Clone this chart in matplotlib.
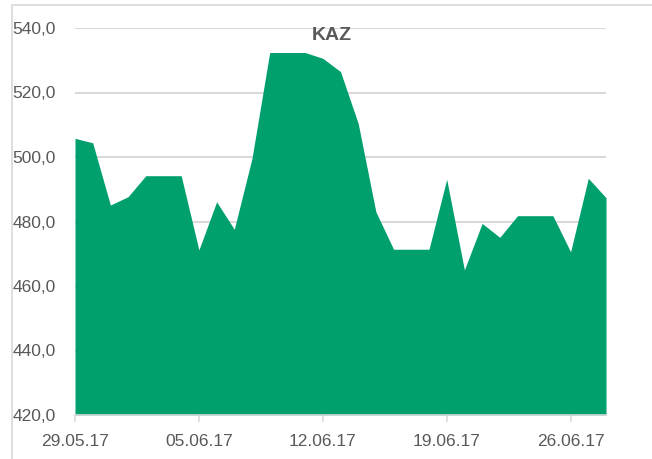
import pandas as pd
import matplotlib.pyplot as plt
import matplotlib.dates as mdates
from matplotlib.patches import Rectangle

plt.rcParams['font.family'] = ['Liberation Sans', 'DejaVu Sans']

dates = pd.date_range('2017-05-29', '2017-06-28', freq='D')
values = [505.8, 504.4, 485.1, 487.7, 494.2, 494.2, 494.2, 471.2, 486.1, 477.6,
          499.6, 532.4, 532.4, 532.4, 530.6, 526.5, 510.4, 483.0, 471.4, 471.4,
          471.4, 493.1, 465.0, 479.4, 475.1, 481.8, 481.8, 481.8, 470.6, 493.4,
          487.4]
tick_dates = pd.date_range('2017-05-29', '2017-06-26', freq='7D')
yticks = [420, 440, 460, 480, 500, 520, 540]

green = '#00A06E'
grey_txt = '#595959'
grid_c = '#D9D9D9'

fig = plt.figure(figsize=(6.52, 4.59), dpi=100)
ax = fig.add_axes([75 / 652, 1 - 415 / 459, (606 - 75) / 652, (415 - 28) / 459])

ax.fill_between(dates, 420, values, color=green, linewidth=0, zorder=2)

ax.set_xlim(dates[0], dates[-1])
ax.set_ylim(420, 540)
ax.set_yticks(yticks)
ax.set_yticklabels([f'{v:.1f}'.replace('.', ',') for v in yticks])
ax.set_xticks(tick_dates)
ax.xaxis.set_major_formatter(mdates.DateFormatter('%d.%m.%y'))

ax.grid(axis='y', color=grid_c, linewidth=1.5, zorder=1)
for s in ['top', 'right', 'left']:
    ax.spines[s].set_visible(False)
ax.spines['bottom'].set_color(grid_c)
ax.spines['bottom'].set_linewidth(1.2)

ax.tick_params(axis='y', length=0, pad=14, labelsize=12.5, labelcolor=grey_txt)
ax.tick_params(axis='x', length=5, color=grid_c, width=1.2, pad=9,
               labelsize=12.5, labelcolor=grey_txt)

fig.text(332 / 652, 1 - 35 / 459, 'KAZ', ha='center', va='center',
         fontsize=14, fontweight='bold', color=grey_txt)

# outer chart frame (runs off the right/bottom edges)
fig.patches.append(Rectangle((12 / 652, -0.05), 1.1, 1 - 5 / 459 + 0.05,
                             transform=fig.transFigure, fill=False,
                             edgecolor=grid_c, linewidth=1.2))

fig.savefig('out.png', dpi=100)
